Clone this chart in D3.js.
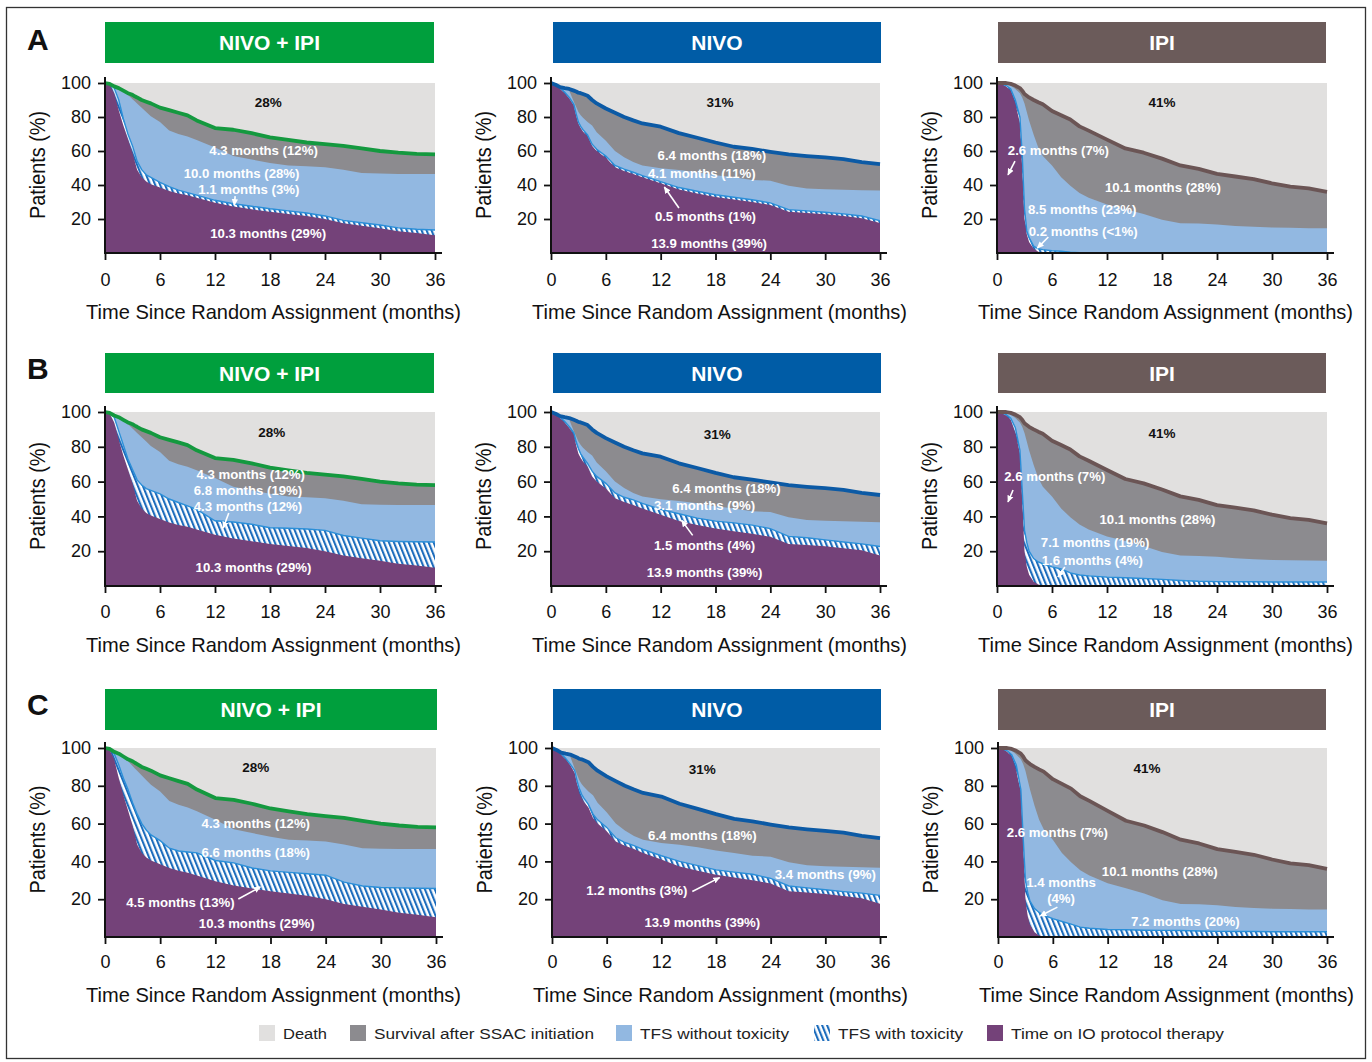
<!DOCTYPE html>
<html><head><meta charset="utf-8">
<script src="https://cdn.jsdelivr.net/npm/d3@7"></script>
<style>body{margin:0;background:#fff}svg{display:block}</style>
</head><body>
<svg id="c" width="1372" height="1062"></svg>
<script>
// ---------------- DATA ----------------
const months = [0,0.5,1,1.5,2,2.5,2.75,3,3.25,3.5,4,4.5,5,6,7,8,9,10,12,14,16,18,20,22,24,26,28,30,32,34,36];
const xTicks = [0,6,12,18,24,30,36];
const yTicks = [20,40,60,80,100];
const arms = ["NIVO + IPI","NIVO","IPI"];
const rowLetters = ["A","B","C"];
const legendLabels = ["Death","Survival after SSAC initiation","TFS without toxicity","TFS with toxicity","Time on IO protocol therapy"];

// NIVO + IPI
const osNivoIpi   = [100,99.5,98,97,95.5,94,93.5,93,92.2,91.5,90,89,88,85.5,84,82.5,81,78,73.5,72.5,70.5,68,66.5,65,64,63,61.5,60,59,58.3,58];
const ssacNivoIpi = [100,99.5,98,96.5,95,93,91.8,90.5,89.2,88,85.5,83,80.5,77,72,70,68.5,66.5,62,57,55,53,51.5,51,50.5,49,47,46.7,46.5,46.5,46.5];
const ioNivoIpi   = [100,99,94,84,75,67,63,59,54,49,44.5,42,40.5,38.5,36.5,35,34,32.5,29.5,27.3,25.7,24.2,23,21.8,20,17.5,16,14.5,12.8,11.8,10.5];
const toxNivoIpiA = [100,99.5,97,90,79,70,66.5,63,58.5,54,49,46,44.5,41.5,39,37,35.5,34,31,29,27.5,26,24.8,23.5,21.8,19.2,17.8,16.5,14.8,14,13.5];
const toxNivoIpiB = [100,99.5,97,89,81,73,70,67,64,61,58,56,55,53,50,48,46,44,37.5,36.8,35.5,33.5,33.2,32.8,32,29,27.5,26,25.6,25.4,25.3];
const toxNivoIpiC = [100,99.5,97,91,84,78,74.5,71,68,65,60,56.5,54,51,47,45.5,45,44.5,40.5,39.2,36.5,35,34.2,33.5,32.7,29,27,26.2,26,25.8,25.7];

// NIVO
const osNivo   = [100,99,97.6,97,96.5,95.5,95,94.3,94,93.5,92.5,90,88,85,82.5,80,78,76.2,74.3,70.5,67.8,65,62.5,61.2,59.5,58,57,56.2,55.2,53.5,52.3];
const ssacNivo = [100,99,97.6,97,95.5,89,86,83,81,79.5,77,75,71,66,60,56.3,53.5,51.5,49.8,48.8,47.5,45.8,44.5,43,42.5,39.5,38,37.5,37.2,36.9,36.7];
const ioNivo   = [100,99,96.6,94,91,86.8,81,76,73.5,71.5,68.5,63,60,56,50.5,48.3,46.5,44.5,41,37.3,35,33,31.5,30,28.3,24.2,23.6,22.8,21.7,20.5,17.6];
const toxNivoA = [100,99.2,97,94.5,91.5,87.5,82,77,74.5,72.5,69.5,64,61,57,51.5,49.3,47.5,45.5,42,38.5,36.3,34.3,32.8,31.3,29.5,25.5,24.8,24,23,21.8,19];
const toxNivoB = [100,99.2,97,94.5,91.5,88,83,79,76,74,70.5,66,63,59,53.5,51,49.5,47.5,44,41.5,39,37.3,36.3,35,33,28.5,27.7,26.5,25.3,24.2,22.7];
const toxNivoC = [100,99.2,97,94.5,91.5,88,82.5,78.5,75.5,73.5,70,65,62,58,52.5,50,48.3,46.3,43,40,37.8,35.5,34.3,33.2,31,27,26,25,24,23.2,22];

// IPI
const osIpi   = [100,100,100,99.5,98.5,97,95.5,93.5,92.5,91.5,90,88.7,87.5,83.5,81,78.5,74.5,72,66.7,61.5,59,55.5,51.5,49.5,46.5,45,43.5,41,39,38,36];
const ssacIpi = [100,100,99.5,98.5,96.5,94,91.5,88,83,78,69.5,62,57,51.5,44.5,39.5,35.3,32.5,28.5,25.8,23,19.5,17.5,17.3,16.8,15.9,15.4,15,14.8,14.6,14.5];
const ioIpi   = [100,99.5,98,95.5,88,76.5,50,20,11,6.5,2.5,0.8,0.3,0,0,0,0,0,0,0,0,0,0,0,0,0,0,0,0,0,0];
const toxIpiA = [100,99.5,98.5,96.5,90,80,58,26,13,9,4,2.5,2,1.3,1,0.5,0.2,0,0,0,0,0,0,0,0,0,0,0,0,0,0];
const toxIpiB = [100,99.5,98.5,96.5,91,78,55,32,25,20,15.8,13.8,12.8,11,9.8,7.5,6.3,5.8,5.1,4.7,4.3,3.8,3.2,2.7,2.5,2.4,2.4,2.3,2.3,2.3,2.3];
const toxIpiC = [100,99.5,98.5,96.5,91,78,53,30,23.5,19,15,13,11.5,9.7,8.2,6.8,5.2,4.6,4,3.8,3.6,3.5,3.4,3.2,3,2.9,2.9,2.8,2.8,2.8,2.8];

// annotations: [text, month, percent, style]  (k = bold black)
const notesA = [
  [["28%",17.8,88.8,"k"],["4.3 months (12%)",17.3,60.6],["10.0 months (28%)",14.9,47.1],["1.1 months (3%)",15.7,37.6],["10.3 months (29%)",17.8,11.8]],
  [["31%",18.5,88.8,"k"],["6.4 months (18%)",17.6,57.6],["4.1 months (11%)",16.5,47.1],["0.5 months (1%)",16.9,21.8],["13.9 months (39%)",17.3,5.9]],
  [["41%",18.0,88.8,"k"],["2.6 months (7%)",6.7,60.6],["10.1 months (28%)",18.1,38.8],["8.5 months (23%)",9.3,25.9],["0.2 months (<1%)",9.4,12.9]]
];
const notesB = [
  [["28%",18.2,88.5,"k"],["4.3 months (12%)",15.9,64.4],["6.8 months (19%)",15.6,55.2],["4.3 months (12%)",15.6,46.0],["10.3 months (29%)",16.2,10.9]],
  [["31%",18.2,87.4,"k"],["6.4 months (18%)",19.2,56.0],["3.1 months (9%)",16.8,46.3],["1.5 months (4%)",16.8,23.4],["13.9 months (39%)",16.8,8.0]],
  [["41%",18.0,88.0,"k"],["2.6 months (7%)",6.3,63.2],["10.1 months (28%)",17.5,38.5],["7.1 months (19%)",10.7,25.3],["1.6 months (4%)",10.4,14.9]]
];
const notesC = [
  [["28%",16.4,89.9,"k"],["4.3 months (12%)",16.4,60.3],["6.6 months (18%)",16.4,45.0],["4.5 months (13%)",8.2,18.5],["10.3 months (29%)",16.5,7.4]],
  [["31%",16.5,89.0,"k"],["6.4 months (18%)",16.5,53.9],["3.4 months (9%)",30.0,33.0],["1.2 months (3%)",9.3,24.6],["13.9 months (39%)",16.5,7.9]],
  [["41%",16.3,89.5,"k"],["2.6 months (7%)",6.5,55.3],["10.1 months (28%)",17.7,34.7],["1.4 months",6.9,28.9],["(4%)",6.9,20.5],["7.2 months (20%)",20.5,8.4]]
];
// arrows: [fromMonth, fromPct, toMonth, toPct]
const arrowsA = [[[14.2,33.5,14.1,28.0]],[[14.0,26.5,12.4,38.8]],[[1.96,54.1,1.2,45.9],[5.6,9.4,4.4,2.9]]];
const arrowsB = [[[13.5,42.0,12.9,33.3]],[[15.5,29.1,14.3,37.7]],[[1.75,55.2,1.2,48.3],[7.4,10.9,6.65,5.2]]];
const arrowsC = [[[14.5,20.1,16.9,26.5]],[[15.4,24.1,18.4,31.4]],[[6.5,15.8,4.6,11.1]]];

// ---------------- STYLE / LAYOUT ----------------
const FONT = '"Liberation Sans", Arial, Helvetica, sans-serif';
const armColor = ["#009f3d","#005ca6","#6b5b5a"];
const osColor = ["#14993f","#0c5aa5","#6b5555"];
const C_DEATH = "#e1e0df", C_SSAC = "#8c8b8f", C_TFS = "#92b8e1", C_IO = "#744279", C_HATCH = "#1c6cbc", C_TOXLINE = "#2b8fd8";

const rowLayout = [
  {y100:83,  y0:253, hTop:22,  hBot:63,  tickBase:286, titleBase:319, letterY:50},
  {y100:412, y0:586, hTop:353, hBot:393, tickBase:618, titleBase:652, letterY:379},
  {y100:748, y0:937, hTop:689, hBot:730, tickBase:968, titleBase:1002, letterY:715}
];
const colLayout = [
  {x0:105, x36:435, hx0:105, hx1:434},
  {x0:551, x36:880, hx0:553, hx1:881},
  {x0:997, x36:1327, hx0:998, hx1:1326}
];
const adjust = {"2-0":{x36:436,hx1:437},"2-1":{x0:552},"2-2":{x0:998}};

const armSeries = [
  {os:osNivoIpi, ssac:ssacNivoIpi, io:ioNivoIpi, tox:[toxNivoIpiA,toxNivoIpiB,toxNivoIpiC]},
  {os:osNivo,    ssac:ssacNivo,    io:ioNivo,    tox:[toxNivoA,toxNivoB,toxNivoC]},
  {os:osIpi,     ssac:ssacIpi,     io:ioIpi,     tox:[toxIpiA,toxIpiB,toxIpiC]}
];
const notesByRow = [notesA, notesB, notesC];
const arrowsByRow = [arrowsA, arrowsB, arrowsC];

// ---------------- DRAW ----------------
const svg = d3.select("#c");
const defs = svg.append("defs");
const pat = defs.append("pattern").attr("id","hatch").attr("patternUnits","userSpaceOnUse")
  .attr("width",4.6).attr("height",4.6).attr("patternTransform","rotate(-22)");
pat.append("rect").attr("width",4.6).attr("height",4.6).attr("fill","#fff");
pat.append("rect").attr("width",2.1).attr("height",4.6).attr("fill",C_HATCH);
defs.append("marker").attr("id","arrow").attr("viewBox","0 0 10 10").attr("refX",9).attr("refY",5)
  .attr("markerUnits","userSpaceOnUse").attr("markerWidth",7).attr("markerHeight",7).attr("orient","auto")
  .append("path").attr("d","M0,0.5L10,5L0,9.5z").attr("fill","#fff");

svg.append("rect").attr("x",6.5).attr("y",7.5).attr("width",1359).attr("height",1051)
  .attr("fill","none").attr("stroke","#333").attr("stroke-width",1.3);

rowLayout.forEach((R, ri) => {
  svg.append("text").attr("x",27).attr("y",R.letterY).attr("font-family",FONT).attr("font-weight","bold")
    .attr("font-size",30).attr("fill","#111").text(rowLetters[ri]);

  colLayout.forEach((C0, ci) => {
    const L = Object.assign({}, C0, adjust[ri+"-"+ci] || {});
    const S = armSeries[ci];
    const tox = S.tox[ri];
    const x = d3.scaleLinear().domain([0,36]).range([L.x0, L.x36]);
    const y = d3.scaleLinear().domain([0,100]).range([R.y0, R.y100]);
    const g = svg.append("g");

    // header band
    g.append("rect").attr("x",L.hx0).attr("y",R.hTop).attr("width",L.hx1-L.hx0).attr("height",R.hBot-R.hTop).attr("fill",armColor[ci]);
    g.append("text").attr("x",(L.hx0+L.hx1)/2).attr("y",(R.hTop+R.hBot)/2+7.5).attr("text-anchor","middle")
      .attr("font-family",FONT).attr("font-weight","bold").attr("font-size",21).attr("fill","#fff").text(arms[ci]);

    // plot
    const cid = "clip"+ri+ci;
    defs.append("clipPath").attr("id",cid).append("rect")
      .attr("x",x(0)).attr("y",y(100)).attr("width",x(36)-x(0)).attr("height",y(0)-y(100));
    const pg = g.append("g").attr("clip-path","url(#"+cid+")");
    pg.append("rect").attr("x",x(0)).attr("y",y(100)).attr("width",x(36)-x(0)).attr("height",y(0)-y(100)).attr("fill",C_DEATH);
    const area = d3.area().x((d,i)=>x(months[i])).y0(y(0)).y1(d=>y(d));
    const line = d3.line().x((d,i)=>x(months[i])).y(d=>y(d));
    pg.append("path").attr("d",area(S.os)).attr("fill",C_SSAC);
    pg.append("path").attr("d",area(S.ssac)).attr("fill",C_TFS);
    pg.append("path").attr("d",area(tox)).attr("fill","url(#hatch)");
    pg.append("path").attr("d",area(S.io)).attr("fill",C_IO);
    pg.append("path").attr("d",line(tox)).attr("fill","none").attr("stroke",C_TOXLINE).attr("stroke-width",1.4);
    g.append("path").attr("d",line(S.os)).attr("fill","none").attr("stroke",osColor[ci]).attr("stroke-width",3.8).attr("stroke-linejoin","round");

    // axes
    const yg = g.append("g").attr("transform","translate("+x(0)+",0)")
      .call(d3.axisLeft(y).tickValues(yTicks).tickSize(7).tickPadding(7).tickSizeOuter(0));
    yg.select(".domain").remove();
    yg.attr("font-family",FONT).attr("font-size",18);
    yg.selectAll("line").attr("stroke","#111").attr("stroke-width",1.8);
    yg.selectAll("text").attr("fill","#111");
    const xg = g.append("g").attr("transform","translate(0,"+y(0)+")")
      .call(d3.axisBottom(x).tickValues(xTicks).tickSize(7).tickPadding(12).tickSizeOuter(0));
    xg.select(".domain").remove();
    xg.attr("font-family",FONT).attr("font-size",18);
    xg.selectAll("line").attr("stroke","#111").attr("stroke-width",1.8);
    xg.selectAll("text").attr("fill","#111").attr("dy",null).attr("y",R.tickBase - R.y0);
    g.append("line").attr("x1",x(0)).attr("x2",x(0)).attr("y1",y(0)+1).attr("y2",y(100)-6).attr("stroke","#111").attr("stroke-width",2);
    g.append("line").attr("x1",x(0)-1).attr("x2",x(36)+7).attr("y1",y(0)).attr("y2",y(0)).attr("stroke","#111").attr("stroke-width",2);

    // axis titles
    g.append("text").attr("x",x(0)+168.5).attr("y",R.titleBase).attr("text-anchor","middle")
      .attr("font-family",FONT).attr("font-size",21).attr("fill","#111")
      .attr("textLength",375).attr("lengthAdjust","spacingAndGlyphs").text("Time Since Random Assignment (months)");
    const ymid = (R.y0 + R.y100)/2 - 3;
    g.append("text").attr("transform","translate("+(x(0)-60)+","+ymid+") rotate(-90)").attr("text-anchor","middle")
      .attr("font-family",FONT).attr("font-size",21.5).attr("fill","#111")
      .attr("textLength",108).attr("lengthAdjust","spacingAndGlyphs").text("Patients (%)");

    // annotations
    notesByRow[ri][ci].forEach(n => {
      const k = n[3] === "k";
      g.append("text").attr("x",x(n[1])).attr("y",y(n[2])).attr("dy","0.36em").attr("text-anchor","middle")
        .attr("font-family",FONT).attr("font-weight","bold").attr("font-size",k?13.5:13.2)
        .attr("fill",k?"#111":"#fff").text(n[0]);
    });
    arrowsByRow[ri][ci].forEach(a => {
      g.append("line").attr("x1",x(a[0])).attr("y1",y(a[1])).attr("x2",x(a[2])).attr("y2",y(a[3]))
        .attr("stroke","#fff").attr("stroke-width",1.6).attr("marker-end","url(#arrow)");
    });
  });
});

// legend
const legendX = [259, 350, 616, 814, 987];
const legendTextLen = [44, 220, 149, 125, 213];
const legendFill = [C_DEATH, C_SSAC, C_TFS, "url(#hatch)", C_IO];
const lg = svg.append("g");
legendLabels.forEach((lab, i) => {
  lg.append("rect").attr("x",legendX[i]).attr("y",1025).attr("width",16).attr("height",16).attr("fill",legendFill[i]);
  lg.append("text").attr("x",legendX[i]+24).attr("y",1039).attr("font-family",FONT).attr("font-size",15.5)
    .attr("fill","#222").attr("textLength",legendTextLen[i]).attr("lengthAdjust","spacingAndGlyphs").text(lab);
});
</script>
</body></html>
